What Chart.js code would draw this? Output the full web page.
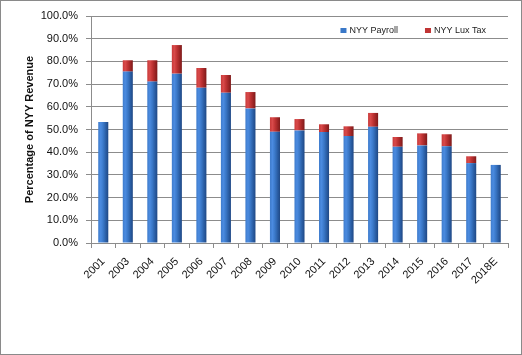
<!DOCTYPE html>
<html><head><meta charset="utf-8">
<script src="https://cdn.jsdelivr.net/npm/chart.js@4"></script>
<style>
html,body{margin:0;padding:0;background:#fff;}
#wrap{position:absolute;left:0;top:0;width:520px;height:353px;border:1px solid #8a8a8a;}
canvas{display:block;}
</style></head>
<body><div id="wrap"><canvas id="c" width="520" height="353"></canvas></div>
<script>
const categories = ['2001','2003','2004','2005','2006','2007','2008','2009','2010','2011','2012','2013','2014','2015','2016','2017','2018E'];
const payroll = [53.3,75.5,71.1,74.6,68.4,66.2,59.3,49.0,49.6,48.9,47.1,51.2,42.4,43.0,42.6,35.2,34.4];
const luxTax  = [0,5.0,9.4,12.6,8.7,7.8,7.2,6.4,5.0,3.4,4.3,6.1,4.3,5.3,5.3,3.0,0];
const yTicks = [0,10,20,30,40,50,60,70,80,90,100];
const seriesColors = ['#3a78c8','#c03434'];

function barGrad(ctx, stops, solid){
  const chart = ctx.chart;
  const xs = chart.scales && chart.scales.x;
  if(!chart.chartArea || !xs || ctx.dataIndex === undefined) return solid;
  const cx = xs.getPixelForValue(ctx.dataIndex);
  const w = 10;
  const g = chart.ctx.createLinearGradient(cx - w/2, 0, cx + w/2, 0);
  stops.forEach((s,i)=>g.addColorStop(i/(stops.length-1), s));
  return g;
}
const blueStops = ['#3f7ccc','#4b8be0','#3a78c8','#2b5fa6','#1f4885'];
const redStops  = ['#c93a3a','#d84a4a','#c03434','#a02626','#7e1a1a'];

const insideLegend = {
  id:'insideLegend',
  afterDraw(chart){
    const ctx = chart.ctx, a = chart.chartArea;
    ctx.save();
    ctx.font = '9px "Liberation Sans", Arial, sans-serif';
    ctx.textBaseline = 'middle';
    const items = chart.data.datasets.map((d,i)=>({text:d.label, color:seriesColors[i]}));
    const box = 6, gapBT = 3, gapItems = 27;
    let x = a.right - 22;
    const y = a.top + 14.5;
    for(let i = items.length-1; i>=0; i--){
      const it = items[i];
      const tw = ctx.measureText(it.text).width;
      const tx = x - tw;
      ctx.fillStyle = '#222';
      ctx.fillText(it.text, tx, y);
      const bx = tx - gapBT - box;
      ctx.fillStyle = it.color;
      ctx.fillRect(bx, y - 2.5, box, 5);
      x = bx - gapItems;
    }
    ctx.restore();
  }
};

new Chart(document.getElementById('c'), {
  type: 'bar',
  data: {
    labels: categories,
    datasets: [
      {label:'NYY Payroll', data: payroll, backgroundColor: c => barGrad(c, blueStops, seriesColors[0]), borderWidth:0,
       categoryPercentage:1, barPercentage:0.41},
      {label:'NYY Lux Tax', data: luxTax, backgroundColor: c => barGrad(c, redStops, seriesColors[1]), borderWidth:0,
       categoryPercentage:1, barPercentage:0.41}
    ]
  },
  plugins:[insideLegend],
  options: {
    responsive:false, animation:false, devicePixelRatio:1,
    layout:{padding:{top:15,right:13,bottom:0,left:0}},
    plugins:{
      tooltip:{enabled:false},
      legend:{display:false}
    },
    scales:{
      x:{
        stacked:true,
        grid:{offset:true, drawOnChartArea:false, drawTicks:true, tickLength:5, color:'#8c8c8c'},
        border:{color:'#8c8c8c', width:1},
        ticks:{maxRotation:45, minRotation:45, autoSkip:false, color:'#111', padding:7,
               font:{family:'"Liberation Sans", Arial, sans-serif', size:11}},
        afterFit: s => { s.height = 111; }
      },
      y:{
        stacked:true, min:0, max:100,
        afterBuildTicks: s => { s.ticks = yTicks.map(v=>({value:v})); },
        grid:{color:'#8c8c8c', lineWidth:1, drawTicks:true, tickLength:5},
        border:{color:'#8c8c8c', width:1},
        ticks:{color:'#111', padding:8, callback: v => v.toFixed(1)+'%',
               font:{family:'"Liberation Sans", Arial, sans-serif', size:11}},
        title:{display:true, text:'Percentage of NYY Revenue', color:'#111',
               padding:{top:22,bottom:0},
               font:{family:'"Liberation Sans", Arial, sans-serif', size:11, weight:'bold'}},
        afterFit: s => { s.width = 90; }
      }
    }
  }
});
</script>
</body></html>
